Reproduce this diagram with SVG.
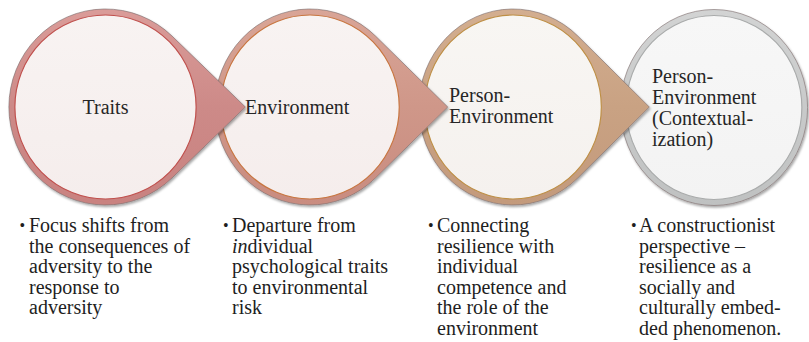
<svg xmlns="http://www.w3.org/2000/svg" width="809" height="342" viewBox="0 0 809 342" font-family="'Liberation Serif', 'Tinos', 'DejaVu Serif', serif">
<defs>
  <linearGradient id="g1" x1="0" y1="0" x2="0" y2="1">
    <stop offset="0" stop-color="#DA9C99"/><stop offset="0.5" stop-color="#CD8A88"/><stop offset="1" stop-color="#C98280"/>
  </linearGradient>
  <linearGradient id="g2" x1="0" y1="0" x2="0" y2="1">
    <stop offset="0" stop-color="#D9A597"/><stop offset="0.5" stop-color="#CF9789"/><stop offset="1" stop-color="#C98C80"/>
  </linearGradient>
  <linearGradient id="g3" x1="0" y1="0" x2="0" y2="1">
    <stop offset="0" stop-color="#D3AE90"/><stop offset="0.5" stop-color="#C9A283"/><stop offset="1" stop-color="#C39A7C"/>
  </linearGradient>
  <linearGradient id="g4" x1="0" y1="0" x2="0" y2="1">
    <stop offset="0" stop-color="#D2D3D3"/><stop offset="1" stop-color="#BFC1C1"/>
  </linearGradient>
  <linearGradient id="fillA" x1="0" y1="0" x2="0" y2="1">
    <stop offset="0" stop-color="#F8F3F2"/><stop offset="1" stop-color="#F5EDEC"/>
  </linearGradient>
  <linearGradient id="fillB" x1="0" y1="0" x2="0" y2="1">
    <stop offset="0" stop-color="#F8F6F3"/><stop offset="1" stop-color="#F5F1EE"/>
  </linearGradient>
  <linearGradient id="fillC" x1="0" y1="0" x2="0" y2="1">
    <stop offset="0" stop-color="#F7F7F7"/><stop offset="1" stop-color="#F3F3F3"/>
  </linearGradient>
  <filter id="sh" x="-10%" y="-10%" width="125%" height="125%">
    <feDropShadow dx="1.2" dy="1.8" stdDeviation="1.2" flood-color="#000" flood-opacity="0.35"/>
  </filter>
  <path id="pointer" d="M142 0 L67.6 -70.9 A98 98 0 1 0 67.6 70.9 Z"/>
</defs>
<style>
  .outer { stroke: #7E6E6E; stroke-width: 0.8; stroke-opacity: 0.8; filter: url(#sh); }
  .inner { stroke-width: 1.2; }
  text { font-family: "Liberation Serif", Tinos, "DejaVu Serif", serif; }
  .lbl { font-size: 20px; fill: #262626; }
  .bul { font-size: 20px; fill: #1E1E1E; }
  .dot { font-size: 16px; fill: #1E1E1E; }
</style>

<g id="node4">
  <g transform="translate(714,107.5) scale(0.955,1)">
    <circle class="outer" r="98" fill="url(#g4)"/>
    <circle class="inner" r="92" fill="url(#fillC)" stroke="#A9ABAB"/>
  </g>
  <text class="lbl" x="652" y="83">Person-</text>
  <text class="lbl" x="652" y="104">Environment</text>
  <text class="lbl" x="652" y="125">(Contextual-</text>
  <text class="lbl" x="652" y="146">ization)</text>
</g>

<g id="node3">
  <g transform="translate(513,107) scale(0.96,1)">
    <use href="#pointer" class="outer" fill="url(#g3)"/>
    <circle class="inner" r="92" fill="url(#fillB)" stroke="#BE8F45"/>
  </g>
  <text class="lbl" x="449" y="102">Person-</text>
  <text class="lbl" x="449" y="123">Environment</text>
</g>

<g id="node2">
  <g transform="translate(310,107) scale(0.97,1)">
    <use href="#pointer" class="outer" fill="url(#g2)"/>
    <circle class="inner" r="92" fill="url(#fillA)" stroke="#C8753F"/>
  </g>
  <text class="lbl" x="245" y="114">Environment</text>
</g>

<g id="node1">
  <g transform="translate(105.5,107) scale(0.985,1)">
    <use href="#pointer" class="outer" fill="url(#g1)"/>
    <circle class="inner" r="92" fill="url(#fillA)" stroke="#C0504D"/>
  </g>
  <text class="lbl" x="105.5" y="114" text-anchor="middle">Traits</text>
</g>

<g id="connectors"></g>

<g id="bullets1">
  <text class="dot" x="19.5" y="231">•</text>
  <text class="bul" x="29" y="232">Focus shifts from</text>
  <text class="bul" x="29" y="252.5">the consequences of</text>
  <text class="bul" x="29" y="273">adversity to the</text>
  <text class="bul" x="29" y="293.5">response to</text>
  <text class="bul" x="29" y="314">adversity</text>
</g>
<g id="bullets2">
  <text class="dot" x="223" y="231">•</text>
  <text class="bul" x="232" y="232">Departure from</text>
  <text class="bul" x="232" y="252.5"><tspan font-style="italic">in</tspan>dividual</text>
  <text class="bul" x="232" y="273">psychological traits</text>
  <text class="bul" x="232" y="293.5">to environmental</text>
  <text class="bul" x="232" y="314">risk</text>
</g>
<g id="bullets3">
  <text class="dot" x="428" y="231">•</text>
  <text class="bul" x="437" y="232">Connecting</text>
  <text class="bul" x="437" y="252.5">resilience with</text>
  <text class="bul" x="437" y="273">individual</text>
  <text class="bul" x="437" y="293.5">competence and</text>
  <text class="bul" x="437" y="314">the role of the</text>
  <text class="bul" x="437" y="334.5">environment</text>
</g>
<g id="bullets4">
  <text class="dot" x="631" y="231">•</text>
  <text class="bul" x="639" y="232">A constructionist</text>
  <text class="bul" x="639" y="252.5">perspective –</text>
  <text class="bul" x="639" y="273">resilience as a</text>
  <text class="bul" x="639" y="293.5">socially and</text>
  <text class="bul" x="639" y="314">culturally embed-</text>
  <text class="bul" x="639" y="334.5">ded phenomenon.</text>
</g>
</svg>
